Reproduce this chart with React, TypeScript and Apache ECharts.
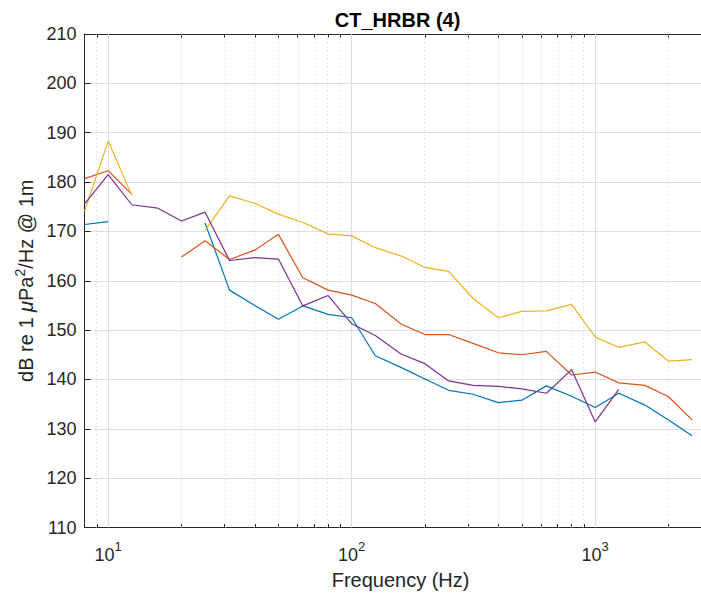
import React, { useEffect, useRef } from "react";
import * as echarts from "echarts";

// 1/3-octave band centre frequencies (Hz)
const freqs = [8, 10, 12.5, 16, 20, 25, 31.5, 40, 50, 63, 80, 100, 125, 160, 200, 250, 315, 400, 500, 630, 800, 1000, 1250, 1600, 2000, 2500];

// Band levels, dB re 1 µPa²/Hz @ 1m (null = no value)
const seriesBlue = [171.4, 172.0, null, null, null, 171.7, 158.1, 155.0, 152.2, 154.9, 153.2, 152.5, 144.8, 142.4, 140.1, 137.8, 137.0, 135.3, 135.8, 138.7, 136.6, 134.3, 137.2, 134.8, 131.8, 128.6];
const seriesOrange = [180.7, 182.3, 177.5, null, 164.8, 168.1, 164.3, 166.2, 169.4, 160.6, 158.1, 157.1, 155.4, 151.2, 149.1, 149.1, 147.3, 145.4, 145.0, 145.7, 140.9, 141.5, 139.3, 138.8, 136.5, 131.8];
const seriesYellow = [174.1, 188.3, 177.3, null, null, 170.2, 177.2, 175.7, 173.5, 171.8, 169.5, 169.1, 166.7, 165.0, 162.7, 161.9, 156.4, 152.5, 153.8, 153.9, 155.2, 148.6, 146.5, 147.6, 143.7, 144.0];
const seriesPurple = [175.6, 181.5, 175.4, 174.7, 172.1, 173.9, 164.1, 164.7, 164.4, 154.9, 157.0, 151.3, 148.9, 145.1, 143.2, 139.7, 138.8, 138.6, 138.1, 137.2, 142.0, 131.4, 138.0, null, null, null];

const seriesList = [seriesBlue, seriesOrange, seriesYellow, seriesPurple];
const seriesNames = ["Series 1", "Series 2", "Series 3", "Series 4"];
const seriesColors = ["#0072BD", "#D95319", "#EDB120", "#7E2F8E"];

// Axis ranges and ticks
const xMin = 8;
const xMax = 3150;
const xMajorTicks = [10, 100, 1000];
const xMinorTicks = [8, 9, 20, 30, 40, 50, 60, 70, 80, 90, 200, 300, 400, 500, 600, 700, 800, 900, 2000, 3000];
const yMin = 110;
const yMax = 210;
const yStep = 10;

const titleText = "CT_HRBR (4)";
const xName = "Frequency (Hz)";

export default function App() {
  const ref = useRef<HTMLDivElement>(null);

  useEffect(() => {
    document.body.style.margin = "0";
    if (!ref.current) return;
    const chart = echarts.init(ref.current, null, { renderer: "svg" });
    const lg = (v: number) => Math.log10(v);
    const font = "'Liberation Sans', Arial, Helvetica, sans-serif";
    const axisColor = "#262626";
    const textColor = "#262626";

    const gridLeft = 84.6;
    const gridTop = 34;
    const gridBottom = 71.5;
    const chartWidth = 740;
    // plot right edge (beyond visible page)
    const plotRight = gridLeft + (lg(xMax) - lg(xMin)) * 243.5;
    const gridRight = chartWidth - plotRight;

    const baseX = (position: string, showLine: boolean, ticks: number[], tickLen: number, labels: boolean) => ({
      type: "value",
      position,
      gridIndex: 0,
      min: lg(xMin),
      max: lg(xMax),
      splitLine: { show: false },
      axisLine: { show: showLine, onZero: false, lineStyle: { color: axisColor, width: 1 } },
      axisTick: {
        show: true,
        inside: true,
        length: tickLen,
        customValues: ticks.map(lg),
        lineStyle: { color: axisColor, width: 1 },
      },
      axisLabel: labels
        ? {
            show: true,
            customValues: xMajorTicks.map(lg),
            margin: 12,
            formatter: (v: number) => `{b|10}{s|${Math.round(v)}}`,
            rich: {
              b: { fontSize: 18, fontFamily: font, color: textColor, lineHeight: 24, verticalAlign: "bottom" },
              s: { fontSize: 13, fontFamily: font, color: textColor, lineHeight: 24, verticalAlign: "top" },
            },
          }
        : { show: false },
    });

    const xAxes: any[] = [
      {
        ...baseX("bottom", true, xMajorTicks, 6, true),
        name: xName,
        nameLocation: "middle",
        nameGap: 42,
        nameTextStyle: { fontSize: 20, fontFamily: font, color: textColor },
      },
      baseX("bottom", false, xMinorTicks, 3.5, false),
      baseX("top", true, xMajorTicks, 6, false),
      baseX("top", false, xMinorTicks, 3.5, false),
    ];

    const gridLines: any[] = [
      ...xMinorTicks.map((t) => ({
        xAxis: lg(t),
        lineStyle: { color: "#d2d2d2", width: 1, type: [1, 3] },
      })),
      ...xMajorTicks.map((t) => ({
        xAxis: lg(t),
        lineStyle: { color: "#dedede", width: 1, type: "solid" },
      })),
    ];

    const dataSeries = seriesList.map((vals, i) => ({
      name: seriesNames[i],
      type: "line",
      xAxisIndex: 0,
      yAxisIndex: 0,
      data: freqs.map((f, j) => [lg(f), vals[j] === null ? "-" : vals[j]]),
      showSymbol: false,
      symbol: "none",
      connectNulls: false,
      z: 3,
      lineStyle: { color: seriesColors[i], width: 1.2 },
      itemStyle: { color: seriesColors[i] },
      emphasis: { disabled: true },
    }));

    chart.setOption({
      animation: false,
      backgroundColor: "#ffffff",
      grid: { left: gridLeft, top: gridTop, bottom: gridBottom, right: gridRight, containLabel: false },
      graphic: [
        {
          type: "text",
          x: (gridLeft + plotRight) / 2 - 3,
          y: 19.5,
          style: {
            text: titleText,
            textAlign: "center",
            textVerticalAlign: "middle",
            fontSize: 20,
            fontWeight: "bold",
            fontFamily: font,
            fill: "#000000",
          },
        },
      ],
      xAxis: xAxes,
      yAxis: [
        {
          type: "value",
          position: "left",
          min: yMin,
          max: yMax,
          interval: yStep,
          axisLine: { show: true, lineStyle: { color: axisColor, width: 1 } },
          axisTick: { show: true, inside: true, length: 6, lineStyle: { color: axisColor } },
          axisLabel: { fontSize: 18, fontFamily: font, color: textColor, margin: 8 },
          splitLine: { show: true, lineStyle: { color: "#dedede", width: 1 } },
          name: "dB re 1 {i|μ}Pa{s|2}/Hz @ 1m",
          nameLocation: "middle",
          nameGap: 45,
          nameTextStyle: {
            fontSize: 20,
            fontFamily: font,
            color: textColor,
            rich: {
              i: { fontSize: 20, fontFamily: font, fontStyle: "italic", color: textColor },
              s: { fontSize: 14, fontFamily: font, color: textColor, verticalAlign: "top", lineHeight: 26 },
            },
          },
        },
      ],
      series: [
        {
          name: "grid",
          type: "line",
          data: [],
          silent: true,
          markLine: {
            silent: true,
            z: 1,
            symbol: "none",
            label: { show: false },
            emphasis: { disabled: true },
            animation: false,
            data: gridLines,
          },
        },
        ...dataSeries,
      ],
    });

    return () => chart.dispose();
  }, []);

  return (
    <div style={{ width: 701, height: 599, overflow: "hidden", position: "relative", background: "#fff" }}>
      <div ref={ref} style={{ width: 740, height: 599 }} />
    </div>
  );
}
